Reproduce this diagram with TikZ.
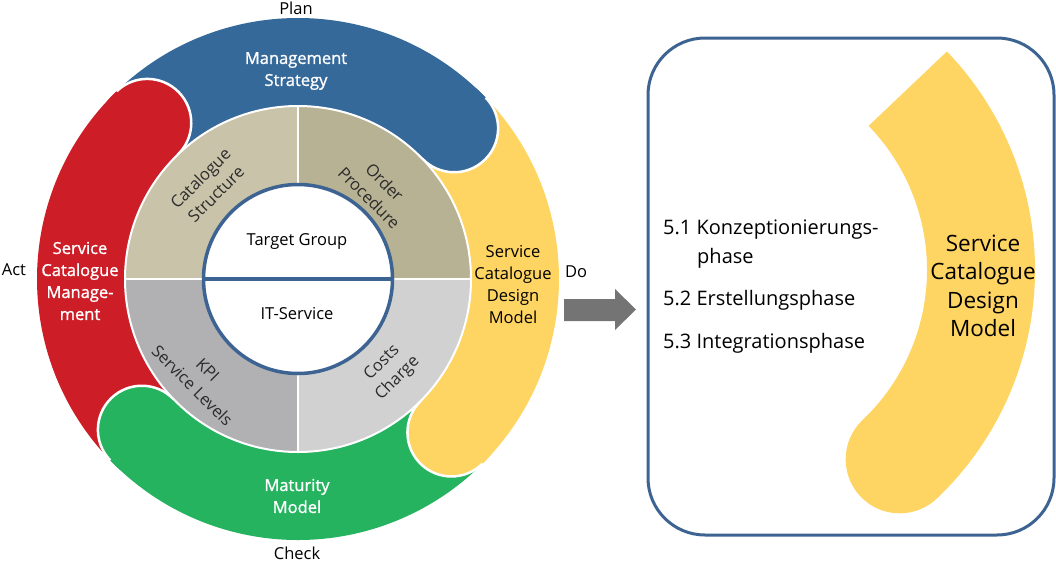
\documentclass[tikz,border=0pt]{standalone}
\usepackage{fontspec}
\setmainfont{Open Sans}
\newfontfamily\semifont[FakeBold=1.2]{Open Sans}
\definecolor{cblue}{HTML}{35699A}
\definecolor{cred}{HTML}{CD1E28}
\definecolor{cyellow}{HTML}{FED462}
\definecolor{cgreen}{HTML}{25B35F}
\definecolor{qA}{HTML}{C9C3A9}
\definecolor{qB}{HTML}{B7B294}
\definecolor{qC}{HTML}{B1B1B3}
\definecolor{qD}{HTML}{D1D1D1}
\definecolor{rimblue}{HTML}{3C6391}
\definecolor{arrowgray}{HTML}{747474}
\definecolor{qtext}{HTML}{2B2B2B}
\begin{document}
\begin{tikzpicture}[x=1pt,y=1pt,
  band/.style={line width=88pt},
  lbl/.style={font=\fontsize{16.5}{22}\selectfont, align=center, inner sep=0pt},
  wlbl/.style={font=\semifont\fontsize{16.5}{22}\selectfont, align=center, inner sep=0pt, text=white},
  qlbl/.style={lbl, text=qtext},
  big/.style={font=\fontsize{22.5}{28.5}\selectfont, align=center, inner sep=0pt},
  listtxt/.style={font=\fontsize{20}{24}\selectfont, anchor=west, inner sep=0pt}]
\useasboundingbox (0,0) rectangle (1056,-562);
\coordinate (C) at (298,-279);
% band bodies
\draw[band, cblue]   (C) ++(134:217) arc[start angle=134,end angle=44,radius=217];
\draw[band, cyellow] (C) ++(44:217) arc[start angle=44,end angle=-45,radius=217];
\draw[band, cgreen]  (C) ++(-45:217) arc[start angle=-45,end angle=-136,radius=217];
\draw[band, cred]    (C) ++(-136:217) arc[start angle=-136,end angle=-226,radius=217];
% rounded ends (overlapping a little of the own body to hide seams)
\foreach \a/\c in {44/cblue, -45/cyellow, -136/cgreen, 134/cred}{
  \fill[\c] (C) ++(\a+3:261) arc[start angle=\a+3, end angle=\a, radius=261]
     arc[start angle=\a, end angle=\a-180, radius=44]
     arc[start angle=\a, end angle=\a+3, radius=173] -- cycle;
  \draw[white, line width=2.5pt] (C) ++(\a:261) arc[start angle=\a, end angle=\a-180, radius=44];
}
% grey ring
\fill[qA] (C) -- ++(90:173) arc[start angle=90,end angle=180,radius=173] -- cycle;
\fill[qB] (C) -- ++(0:173) arc[start angle=0,end angle=90,radius=173] -- cycle;
\fill[qC] (C) -- ++(180:173) arc[start angle=180,end angle=270,radius=173] -- cycle;
\fill[qD] (C) -- ++(270:173) arc[start angle=270,end angle=360,radius=173] -- cycle;
\draw[white, line width=2pt] (C) circle[radius=173];
\draw[white, line width=2pt] (C) ++(0,173) -- ++(0,-346);
\draw[white, line width=2pt] (C) ++(-173,0) -- ++(346,0);
% core
\node[circle, fill=white, draw=rimblue, line width=3.5pt, minimum size=189pt, inner sep=0pt] (core) at (C) {};
\draw[rimblue, line width=3.5pt] (core.west) -- (core.east);
\node[lbl] (tg) at (297,-242) {Target Group};
\node[lbl] (its) at (297,-314) {IT-Service};
% quadrant labels
\node[qlbl, rotate=45]  (cs) at (208,-186) {Catalogue\\Structure};
\node[qlbl, rotate=-45] (op) at (377,-190) {Order\\Procedure};
\node[qlbl, rotate=-45] (kpi) at (200,-378) {KPI\\Service Levels};
\node[qlbl, rotate=45]  (cc) at (390,-371) {Costs\\Charge};
% band labels
\node[wlbl] (ms) at (296,-71) {Management\\Strategy};
\node[wlbl] (scm) at (80,-281) {Service\\Catalogue\\Manage-\\ment};
\node[lbl] (scd) at (513,-285) {Service\\Catalogue\\Design\\Model};
\node[wlbl] (mm) at (297,-496) {Maturity\\Model};
% PDCA
\node[lbl] (plan) at (296,-8) {Plan};
\node[lbl] (act) at (14,-270) {Act};
\node[lbl] (do) at (576,-272) {Do};
\node[lbl] (check) at (297,-553) {Check};
% arrow
\fill[arrowgray] (564,-299) -- (615,-299) -- (615,-289) -- (636,-309.5) -- (615,-330) -- (615,-321) -- (564,-321) -- cycle;
% right box
\node[draw=rimblue, line width=3pt, rounded corners=57pt, minimum width=406pt, minimum height=497pt, inner sep=0pt] (box) at (851,-286.5) {};
\draw[line width=108pt, cyellow] (720,-270) ++(44:261) arc[start angle=44,end angle=-46.5,radius=261];
\fill[cyellow] (720,-270) ++(-46.5:261) circle[radius=54];
\node[big] (scd2) at (983,-286) {Service\\Catalogue\\Design\\Model};
\node[listtxt] (l1) at (663,-230) {5.1 Konzeptionierungs-};
\node[listtxt] (l1b) at (697,-258) {phase};
\node[listtxt] (l2) at (663,-300) {5.2 Erstellungsphase};
\node[listtxt] (l3) at (663,-343) {5.3 Integrationsphase};
\end{tikzpicture}
\end{document}
